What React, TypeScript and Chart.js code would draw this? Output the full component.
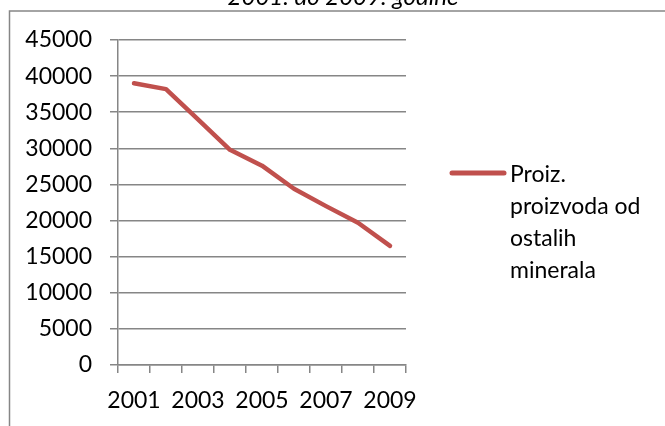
import React, { useEffect, useRef } from "react";
import { Chart, registerables } from "chart.js";

Chart.register(...registerables);

const years = ["2001", "2002", "2003", "2004", "2005", "2006", "2007", "2008", "2009"];
const production = [39000, 38200, 34000, 29800, 27600, 24400, 22000, 19700, 16500];
const seriesLabelLines = ["Proiz.", "proizvoda od", "ostalih", "minerala"];
const titleText = "2001. do 2009. godine";

const FONT = "Lato, 'Open Sans', sans-serif";
const GRID = "#868686";
const RED = "#C0504D";

export default function App() {
  const ref = useRef<HTMLCanvasElement | null>(null);

  useEffect(() => {
    const canvas = ref.current;
    if (!canvas) return;

    const decor = {
      id: "decor",
      beforeDraw(chart: any) {
        const ctx = chart.ctx;
        ctx.save();
        ctx.fillStyle = "#ffffff";
        ctx.fillRect(0, 0, chart.width, chart.height);
        ctx.strokeStyle = GRID;
        ctx.lineWidth = 1.5;
        ctx.beginPath();
        ctx.moveTo(9.5, chart.height + 5);
        ctx.lineTo(9.5, 11);
        ctx.lineTo(chart.width + 5, 11);
        ctx.stroke();
        ctx.fillStyle = "#000000";
        ctx.font = `italic 24px ${FONT}`;
        ctx.textAlign = "center";
        ctx.textBaseline = "alphabetic";
        ctx.fillText(titleText, 343, 5);
        ctx.restore();
      },
      afterDraw(chart: any) {
        const ctx = chart.ctx;
        ctx.save();
        ctx.strokeStyle = RED;
        ctx.lineWidth = 5;
        ctx.lineCap = "round";
        ctx.beginPath();
        ctx.moveTo(452, 173);
        ctx.lineTo(504, 173);
        ctx.stroke();
        ctx.fillStyle = "#000000";
        ctx.font = `23px ${FONT}`;
        ctx.textAlign = "left";
        ctx.textBaseline = "alphabetic";
        seriesLabelLines.forEach((line, i) => {
          ctx.fillText(line, 510, 182 + i * 32);
        });
        ctx.restore();
      },
    };

    const chart = new Chart(canvas, {
      type: "line",
      data: {
        labels: years,
        datasets: [
          {
            label: seriesLabelLines.join(" "),
            data: production,
            borderColor: RED,
            backgroundColor: RED,
            borderWidth: 4.5,
            pointRadius: 0,
            tension: 0,
            borderCapStyle: "round",
            borderJoinStyle: "round",
          },
        ],
      },
      options: {
        animation: false,
        responsive: false,
        devicePixelRatio: 1,
        layout: { padding: { left: 0, top: 40, right: 259, bottom: 0 } },
        plugins: {
          legend: { display: false },
          title: { display: false },
          tooltip: { enabled: false },
        },
        scales: {
          x: {
            type: "category",
            offset: true,
            afterFit(scale: any) {
              scale.height = 61;
            },
            grid: {
              offset: true,
              drawOnChartArea: false,
              drawTicks: true,
              tickLength: 8,
              color: GRID,
              lineWidth: 1.5,
            },
            border: { display: true, color: GRID, width: 1.5 },
            ticks: {
              autoSkip: false,
              maxRotation: 0,
              padding: 14,
              color: "#000000",
              font: { family: FONT, size: 23 },
              callback: (_v: any, i: number) => (i % 2 === 0 ? years[i] : ""),
            },
          },
          y: {
            min: 0,
            max: 45000,
            afterFit(scale: any) {
              scale.width = 118;
            },
            grid: {
              color: GRID,
              lineWidth: 1.5,
              drawTicks: true,
              tickLength: 8,
            },
            border: { display: true, color: GRID, width: 1.5 },
            ticks: {
              stepSize: 5000,
              padding: 18,
              color: "#000000",
              font: { family: FONT, size: 23 },
              callback: (v: any) => String(v),
            },
          },
        },
      },
      plugins: [decor],
    });

    return () => chart.destroy();
  }, []);

  return (
    <div style={{ position: "absolute", left: 0, top: 0, width: 665, height: 426, background: "#fff" }}>
      <canvas ref={ref} width={665} height={426} style={{ width: 665, height: 426, display: "block" }} />
    </div>
  );
}
